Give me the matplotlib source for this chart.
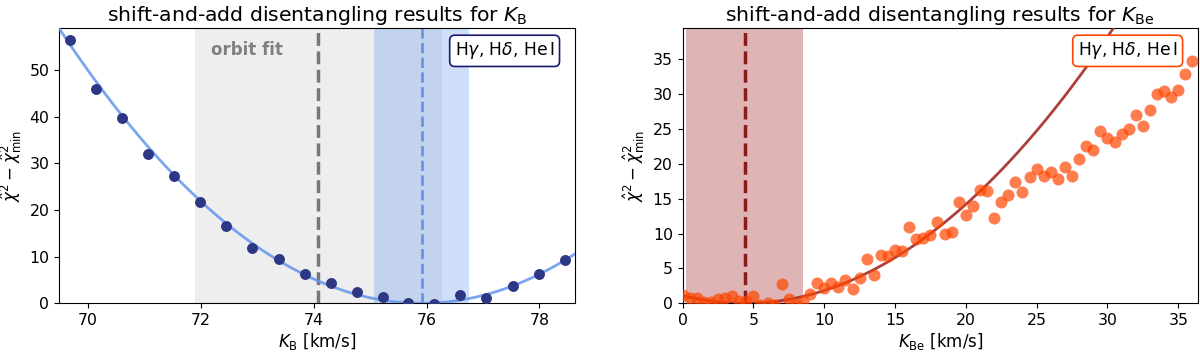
import numpy as np
import matplotlib
matplotlib.use("Agg")
import matplotlib.pyplot as plt

# ---- left panel data (K_B) ----
kb = [69.68, 70.15, 70.61, 71.07, 71.53, 71.99, 72.45, 72.91, 73.38, 73.84,
      74.30, 74.76, 75.22, 75.68, 76.14, 76.60, 77.06, 77.53, 77.99, 78.45]
chi_b = [56.5, 45.9, 39.6, 32.0, 27.3, 21.7, 16.6, 11.9, 9.5, 6.3,
         4.3, 2.5, 1.35, 0.0, -0.2, 1.7, 1.1, 3.6, 6.2, 9.2]
fit_b_a, fit_b_x0 = 1.43, 75.91
kb_best, kb_lo, kb_hi = 75.92, 75.07, 76.76
orbit_kb, orbit_lo, orbit_hi = 74.07, 71.89, 76.27

# ---- right panel data (K_Be) ----
kbe = [i * 0.5 for i in range(73)]
chi_be = [1.2, 0.8, 0.8, 0.2, 0.25, 0.6, 0.7, 1.1, 0.4, 0.4,
          1.0, -0.3, 0.05, -0.3, 2.8, 0.6, -0.2, 0.3, 1.4, 2.9,
          2.2, 2.9, 2.3, 3.4, 2.1, 3.7, 6.3, 4.0, 6.9, 6.8,
          7.7, 7.5, 10.9, 9.2, 9.3, 9.8, 11.6, 9.9, 10.3, 14.5,
          12.6, 13.9, 16.3, 16.1, 12.3, 14.6, 15.5, 17.4, 16.0, 18.1,
          19.3, 18.2, 18.8, 17.9, 19.5, 18.3, 20.7, 22.5, 22.0, 24.7,
          23.7, 23.2, 24.3, 25.0, 27.0, 25.5, 27.7, 30.0, 30.5, 29.6,
          30.6, 32.9, 34.8]
fit_be_a, fit_be_x0 = 0.0583, 4.40
kbe_best, kbe_lo, kbe_hi = 4.40, 0.27, 8.51

label_text = r"H$\gamma$, H$\delta$, He$\,$I"
fs_tick = 11.3
fs_lab = 12
fs_box = 12.3
fs_title = 14.7

fig = plt.figure(figsize=(12, 3.53), dpi=100)
ax1 = fig.add_axes([0.0492, 0.1408, 0.43, 0.78])
ax2 = fig.add_axes([0.5688, 0.1408, 0.4296, 0.78])

# left
ax1.axvspan(orbit_lo, orbit_hi, color="#eeeeee", lw=0, zorder=0)
ax1.axvspan(kb_lo, kb_hi, color="cornflowerblue", alpha=0.3, lw=0, zorder=1)
ax1.axvline(orbit_kb, color="#777777", ls="--", lw=2.5, zorder=2)
ax1.axvline(kb_best, color="cornflowerblue", ls="--", lw=2, zorder=2)
xx = np.linspace(69.4, 78.7, 300)
ax1.plot(xx, fit_b_a * (xx - fit_b_x0) ** 2, color="cornflowerblue", lw=2, alpha=0.85, zorder=3)
ax1.scatter(kb, chi_b, s=62, color="#2e3784", zorder=4, lw=0)
ax1.text(72.81, 54.3, "orbit fit", color="#808080", fontweight="bold",
         fontsize=12, ha="center", va="center")
ax1.text(0.96, 0.955, label_text, transform=ax1.transAxes, ha="right", va="top",
         fontsize=fs_box, bbox=dict(boxstyle="round,pad=0.3", fc="white", ec="midnightblue", lw=1.2))
ax1.set_xlim(69.49, 78.63)
ax1.set_ylim(0, 59.0)
ax1.set_xticks([70, 72, 74, 76, 78])
ax1.set_yticks([0, 10, 20, 30, 40, 50])
ax1.set_xlabel(r"$K_{\rm B}$ [km/s]", fontsize=fs_lab, labelpad=2)
ax1.set_ylabel(r"$\hat{\chi}^2 - \hat{\chi}^2_{\rm min}$", fontsize=fs_lab)
ax1.set_title(r"shift-and-add disentangling results for $K_{\rm B}$", fontsize=fs_title, pad=5)

# right
ax2.axvspan(kbe_lo, kbe_hi, color="brown", alpha=0.35, lw=0, zorder=0)
ax2.axvline(kbe_best, color="#8b1a1a", ls="--", lw=2.5, zorder=2)
xx2 = np.linspace(0, 36.5, 300)
ax2.plot(xx2, fit_be_a * (xx2 - fit_be_x0) ** 2, color="brown", lw=2, alpha=0.9, zorder=3)
ax2.scatter(kbe, chi_be, s=75, color="orangered", alpha=0.7, zorder=4, lw=0)
ax2.text(0.96, 0.955, label_text, transform=ax2.transAxes, ha="right", va="top",
         fontsize=fs_box, bbox=dict(boxstyle="round,pad=0.3", fc="white", ec="orangered", lw=1.2))
ax2.set_xlim(0, 36.4)
ax2.set_ylim(0, 39.5)
ax2.set_xticks([0, 5, 10, 15, 20, 25, 30, 35])
ax2.set_yticks([0, 5, 10, 15, 20, 25, 30, 35])
ax2.set_xlabel(r"$K_{\rm Be}$ [km/s]", fontsize=fs_lab, labelpad=2)
ax2.set_ylabel(r"$\hat{\chi}^2 - \hat{\chi}^2_{\rm min}$", fontsize=fs_lab)
ax2.set_title(r"shift-and-add disentangling results for $K_{\rm Be}$", fontsize=fs_title, pad=5)

for ax in (ax1, ax2):
    ax.tick_params(labelsize=fs_tick)

fig.savefig("out.png", dpi=100)
